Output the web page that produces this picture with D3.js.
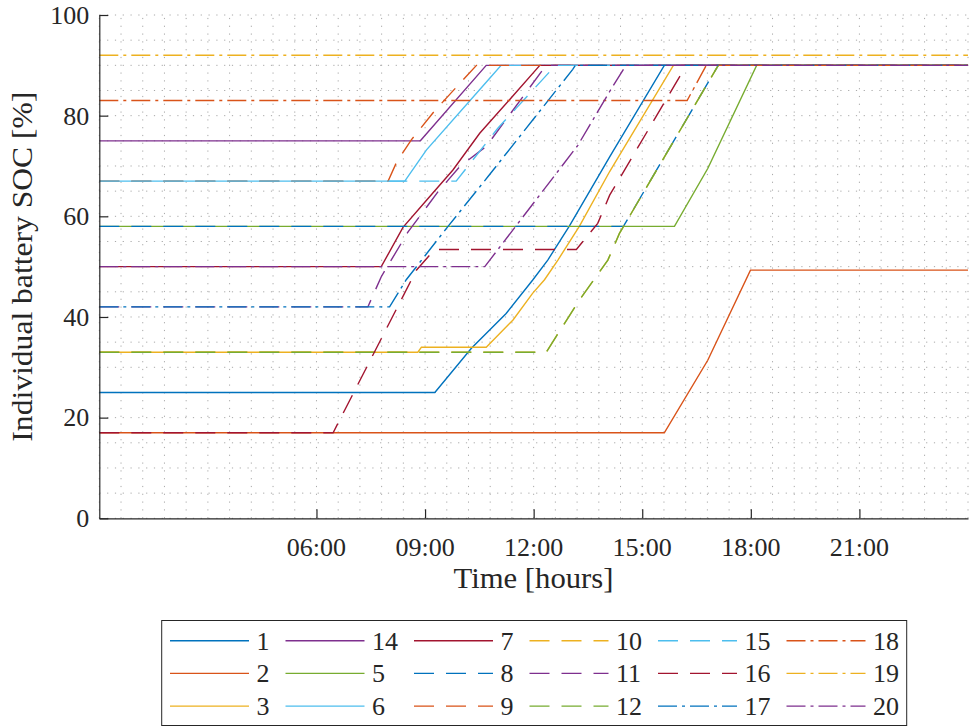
<!DOCTYPE html>
<html>
<head>
<meta charset="utf-8">
<script src="https://cdn.jsdelivr.net/npm/d3@7"></script>
<style>
  html, body { margin: 0; padding: 0; background: #fff; }
  svg { display: block; }
</style>
</head>
<body>
<svg id="chart" width="969" height="726" font-family="Liberation Serif"></svg>
<script>
// Axis ticks
const timeTicks = [6, 9, 12, 15, 18, 21];
const timeTickLabels = ["06:00", "09:00", "12:00", "15:00", "18:00", "21:00"];
const socTicks = [0, 20, 40, 60, 80, 100];

// Battery names, in drawing / legend order
const batteryNames = ["1", "2", "3", "14", "5", "6", "7", "8", "9", "10",
                      "11", "12", "15", "16", "17", "18", "19", "20"];

// State of charge profiles: [hour of day, SOC %]
const soc1  = [[0,25],[9.27,25],[10.28,33.8],[11.24,40.7],[11.98,47.4],[12.39,51.3],[12.99,58.1],[14.1,71.8],[15.61,90],[24,90]];
const soc2  = [[0,17],[15.61,17],[16.81,31.4],[17.99,49.3],[24,49.3]];
const soc3  = [[0,33],[8.8,33],[8.9,34],[10.69,34],[11.43,39.4],[11.97,44.7],[12.3,47.4],[12.67,51.3],[13.27,58.1],[14.1,68.9],[15.86,90],[24,90]];
const soc14 = [[0,75],[8.87,75],[10.69,90],[24,90]];
const soc5  = [[0,58],[15.89,58],[16.81,69.5],[18.16,90],[24,90]];
const soc6  = [[0,67],[8.44,67],[9.04,73.2],[10.78,87.4],[11.1,90],[24,90]];
const soc7  = [[0,50],[7.79,50],[8.39,57.8],[9.04,63.2],[9.77,69.2],[10.51,76.5],[11.34,83.2],[12.17,90],[24,90]];
const soc8  = [[0,58],[14.48,58],[17.1,90],[24,90]];
const soc9  = [[0,67],[7.98,67],[8.21,70.7],[8.62,75.2],[9.27,81],[10.42,90],[24,90]];
const soc10 = [[0,33],[12.35,33],[12.62,36.1],[13.27,43.4],[14.05,51.3],[14.37,56.6],[17.1,90],[24,90]];
const soc11 = [[0,42],[7.42,42],[7.79,48],[8.53,56.9],[9.36,64.9],[9.96,69.9],[10.69,73.9],[12.21,88.7],[12.35,90],[24,90]];
const soc12 = [[0,33],[12.35,33],[12.62,36.1],[13.27,43.4],[14.05,51.3],[14.37,56.6],[17.1,90],[24,90]];
const soc15 = [[0,67],[9.86,67],[11.01,77.5],[11.52,81.5],[12.44,88.7],[12.6,90],[24,90]];
const soc16 = [[0,17],[6.46,17],[8.76,49.3],[9.13,52.3],[9.3,53.4],[13.18,53.4],[13.77,58.6],[14.1,64.2],[16.03,87.7],[16.2,90],[24,90]];
const soc17 = [[0,42],[8.02,42],[8.48,47.4],[9.59,57.6],[10.74,67.9],[13.08,89.2],[13.15,90],[24,90]];
const soc18 = [[0,83],[16.24,83],[16.77,90],[24,90]];
const soc19 = [[0,92],[24,92]];
const soc20 = [[0,50],[10.65,50],[13.22,74.1],[14.1,84.8],[14.55,90],[24,90]];

const batterySeries = [soc1, soc2, soc3, soc14, soc5, soc6, soc7, soc8, soc9, soc10,
                       soc11, soc12, soc15, soc16, soc17, soc18, soc19, soc20];

// Colour cycle and line styles
const lineColors = ["#0072BD", "#D95319", "#EDB120", "#7E2F8E", "#77AC30", "#4DBEEE", "#A2142F"];
const dashStyles = { solid: null, dashed: "20,12", dashdot: "19,5,3,5" };
function styleOf(i) { return i < 7 ? "solid" : (i < 14 ? "dashed" : "dashdot"); }

const INK = "#262626";

const svg = d3.select("#chart");
const plot = { left: 99.3, right: 968, top: 15, bottom: 518.3 };
const x = d3.scaleLinear().domain([0, 24]).range([plot.left, plot.right]);
const y = d3.scaleLinear().domain([0, 100]).range([plot.bottom, plot.top]);

// Dotted grid (minor spacing)
const grid = svg.append("g")
  .attr("stroke", "#a8a8a8").attr("stroke-width", 1).attr("stroke-dasharray", "1.2,6.6");
grid.selectAll("line.v").data(d3.range(0, 24.001, 0.6)).join("line")
  .attr("class", "v")
  .attr("x1", d => x(d)).attr("x2", d => x(d))
  .attr("y1", plot.bottom).attr("y2", plot.top);
grid.selectAll("line.h").data(d3.range(0, 100.001, 5)).join("line")
  .attr("class", "h")
  .attr("x1", plot.left).attr("x2", plot.right)
  .attr("y1", d => y(d)).attr("y2", d => y(d));

// Battery SOC lines
const line = d3.line().x(d => x(d[0])).y(d => y(d[1]));
svg.append("g").selectAll("path").data(batterySeries).join("path")
  .attr("d", line)
  .attr("fill", "none")
  .attr("stroke", (d, i) => lineColors[i % 7])
  .attr("stroke-width", 1.4)
  .attr("stroke-dasharray", (d, i) => dashStyles[styleOf(i)]);

// Axis lines and ticks (labels drawn separately below)
const yAxis = svg.append("g")
  .attr("transform", `translate(${plot.left},0)`)
  .call(d3.axisLeft(y).tickValues(socTicks).tickSizeInner(-9).tickSizeOuter(0).tickFormat(""));
const xAxis = svg.append("g")
  .attr("transform", `translate(0,${plot.bottom})`)
  .call(d3.axisBottom(x).tickValues(timeTicks).tickSizeInner(-9).tickSizeOuter(0).tickFormat(""));
[xAxis, yAxis].forEach(g => {
  g.attr("font-family", null).attr("font-size", null);
  g.select(".domain").attr("stroke", INK).attr("stroke-width", 1.2);
  g.selectAll(".tick line").attr("stroke", INK).attr("stroke-width", 1.2);
  g.selectAll(".tick text").remove();
});

// Tick labels
svg.selectAll("text.ytick").data(socTicks).join("text")
  .attr("class", "ytick")
  .attr("x", plot.left - 10).attr("y", d => y(d)).attr("dy", "0.34em")
  .attr("text-anchor", "end")
  .attr("font-size", 26).attr("fill", INK)
  .text(d => d);
svg.selectAll("text.xtick").data(timeTicks).join("text")
  .attr("class", "xtick")
  .attr("x", d => x(d)).attr("y", plot.bottom + 38)
  .attr("text-anchor", "middle")
  .attr("font-size", 26).attr("fill", INK)
  .text((d, i) => timeTickLabels[i]);

// Axis titles
svg.append("text")
  .attr("x", 533.5).attr("y", 588)
  .attr("text-anchor", "middle")
  .attr("font-size", 29).attr("fill", INK)
  .attr("textLength", 160).attr("lengthAdjust", "spacingAndGlyphs")
  .text("Time [hours]");
svg.append("text")
  .attr("transform", `translate(32,${(plot.top + plot.bottom) / 2}) rotate(-90)`)
  .attr("text-anchor", "middle")
  .attr("font-size", 29).attr("fill", INK)
  .attr("textLength", 350).attr("lengthAdjust", "spacingAndGlyphs")
  .text("Individual battery SOC [%]");

// Legend: 3 rows, column-major
svg.append("rect")
  .attr("x", 161.7).attr("y", 620.5).attr("width", 745).attr("height", 105)
  .attr("fill", "#fff").attr("stroke", INK).attr("stroke-width", 1);

const rows = 3, rowStep = 32.7, rowY0 = 640.7, sampleLen = 79, digitW = 13;
let colX = 170;
const nCols = Math.ceil(batteryNames.length / rows);
for (let c = 0; c < nCols; c++) {
  let maxChars = 0;
  for (let r = 0; r < rows; r++) {
    const i = c * rows + r;
    if (i >= batteryNames.length) break;
    const yy = rowY0 + r * rowStep;
    svg.append("line")
      .attr("x1", colX).attr("x2", colX + sampleLen)
      .attr("y1", yy).attr("y2", yy)
      .attr("stroke", lineColors[i % 7]).attr("stroke-width", 1.4)
      .attr("stroke-dasharray", dashStyles[styleOf(i)]);
    svg.append("text")
      .attr("x", colX + sampleLen + 7.5).attr("y", yy + 9)
      .attr("font-size", 26).attr("fill", INK)
      .text(batteryNames[i]);
    maxChars = Math.max(maxChars, batteryNames[i].length);
  }
  colX += sampleLen + 7.5 + maxChars * digitW + 16;
}
</script>
</body>
</html>
